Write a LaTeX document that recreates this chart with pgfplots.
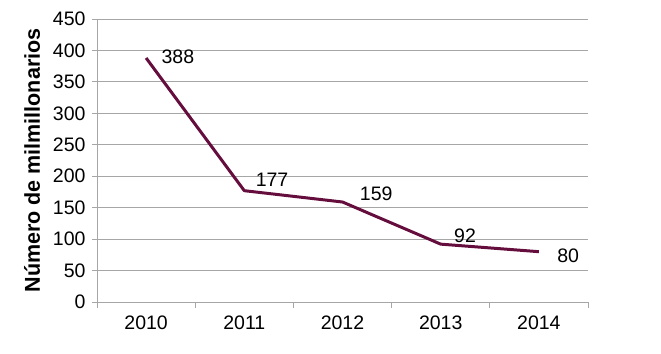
\documentclass[border=0pt]{standalone}
\usepackage{pgfplots}
\pgfplotsset{compat=1.18}
\usepackage{pgfplotstable}
\usepackage{fontspec}
\setmainfont{Liberation Sans}
\definecolor{maroon}{HTML}{650D3C}
\definecolor{gridgray}{HTML}{A6A6A6}
\pgfplotstableread{
x y dx dy
0 388 14 1
1 177 10 11
2 159 16 8
3 92 12 8
4 80 17 -4
}\datatable
\begin{document}
\begin{tikzpicture}
\begin{axis}[
  at={(0,0)}, anchor=south west,
  scale only axis, width=491bp, height=283bp,
  xmin=-0.5, xmax=4.5, ymin=0, ymax=450,
  xtick={0,1,2,3,4},
  xticklabels={2010,2011,2012,2013,2014},
  minor xtick={-0.5,0.5,1.5,2.5,3.5,4.5},
  ytick={0,50,...,450},
  tick align=outside,
  major x tick style={draw=none},
  minor x tick style={draw=gridgray, line width=0.8pt},
  minor tick length=6bp,
  major tick length=5bp,
  y tick style={draw=gridgray, line width=0.8pt},
  ymajorgrids,
  grid style={draw=gridgray, line width=0.8pt},
  axis x line*=bottom, axis y line*=left,
  axis line style={draw=gridgray, line width=0.8pt, -},
  tick label style={font=\fontsize{19.5bp}{22bp}\selectfont, text=black},
  /pgf/number format/assume math mode=true,
  xticklabel style={yshift=-5bp},
  yticklabel style={xshift=-3bp},
  ylabel={\bfseries Número de milmillonarios},
  ylabel style={font=\fontsize{21.5bp}{23bp}\selectfont, yshift=6bp},
  clip=false,
]
\addplot[color=maroon, line width=3pt, line join=round,
  nodes near coords, point meta=explicit symbolic,
  visualization depends on={\thisrow{dx} \as \dx},
  visualization depends on={\thisrow{dy} \as \dy},
  every node near coord/.style={anchor=west, xshift=\dx bp, yshift=\dy bp, inner sep=0pt, font=\fontsize{19.5bp}{22bp}\selectfont, text=black},
] table[x=x, y=y, meta=y] {\datatable};
\end{axis}
\pgfresetboundingbox
\path (-97bp,-52bp) rectangle (564bp,302bp);
\end{tikzpicture}
\end{document}
